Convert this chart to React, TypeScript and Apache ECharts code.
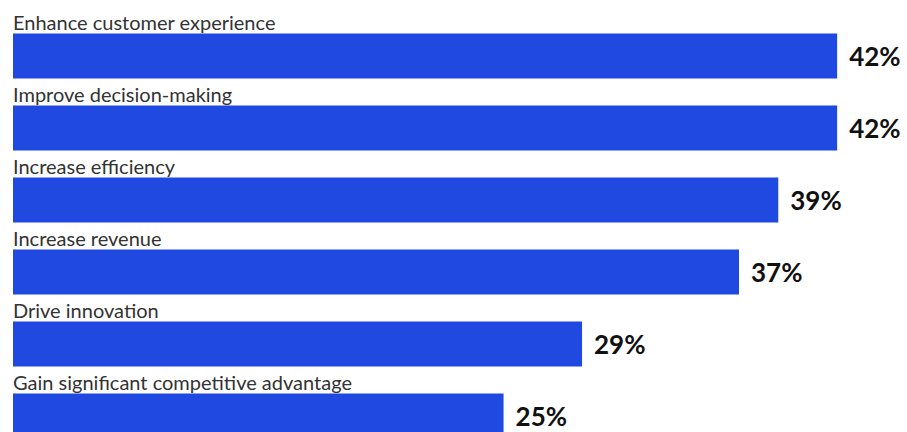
import React, { useEffect, useRef } from "react";
import * as echarts from "echarts";

const categories = [
  "Enhance customer experience",
  "Improve decision-making",
  "Increase efficiency",
  "Increase revenue",
  "Drive innovation",
  "Gain significant competitive advantage",
];
const values = [42, 42, 39, 37, 29, 25];

export default function App() {
  const ref = useRef<HTMLDivElement>(null);
  useEffect(() => {
    const chart = echarts.init(ref.current!, null, { renderer: "svg" });
    chart.setOption({
      animation: false,
      grid: { left: 13, top: 20, width: 883, height: 432 },
      xAxis: { type: "value", min: 0, max: 45, show: false },
      yAxis: {
        type: "category",
        data: categories,
        inverse: true,
        show: false,
      },
      series: [
        {
          type: "bar",
          data: values,
          barWidth: 45,
          itemStyle: { color: "#1f49e1" },
          label: {
            show: true,
            position: "right",
            distance: 12,
            formatter: "{c}%",
            fontFamily: "Lato",
            fontWeight: "bold",
            fontSize: 26,
            color: "#111",
          },
          z: 2,
        },
        {
          type: "bar",
          data: values,
          barWidth: 45,
          barGap: "-100%",
          itemStyle: { color: "transparent" },
          silent: true,
          label: {
            show: true,
            position: [0, -2],
            align: "left",
            verticalAlign: "bottom",
            formatter: (p: any) => p.name,
            fontFamily: "Lato",
            fontSize: 20,
            color: "#333",
          },
          z: 3,
        },
      ],
    });
    return () => chart.dispose();
  }, []);
  return (
    <div
      style={{ position: "absolute", left: 0, top: 0, width: 907, height: 432, overflow: "hidden", background: "#fff" }}
    >
      <div ref={ref} style={{ width: 907, height: 480 }} />
    </div>
  );
}
